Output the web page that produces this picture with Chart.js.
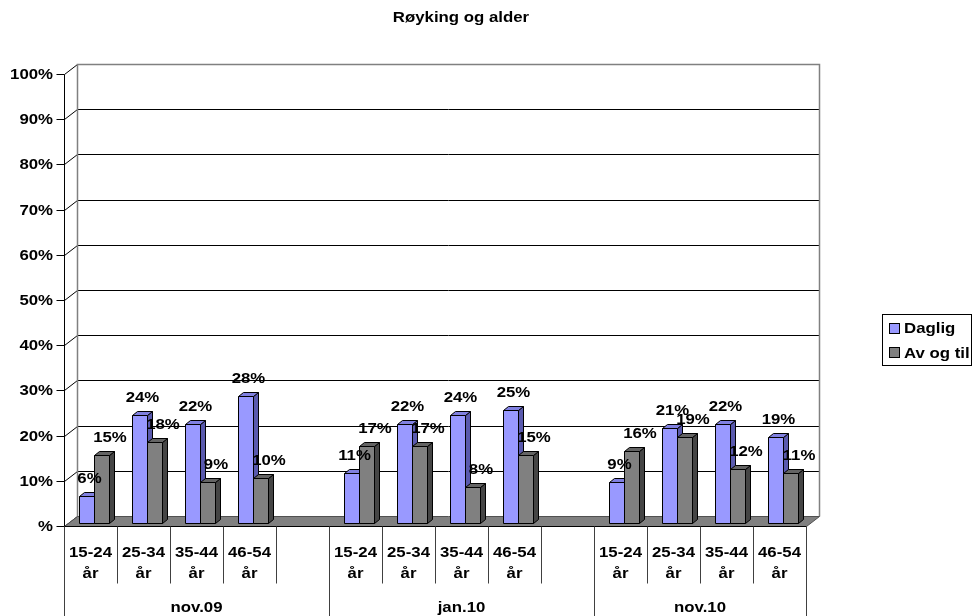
<!DOCTYPE html>
<html>
<head>
<meta charset="utf-8">
<script src="https://cdn.jsdelivr.net/npm/chart.js@4.4.0/dist/chart.umd.min.js"></script>
<style>
  html, body { margin: 0; padding: 0; background: #fff; }
  canvas { display: block; }
</style>
</head>
<body>
<canvas id="c" width="974" height="616"></canvas>
<script>
// ---- data ----
const chartTitle = 'Røyking og alder';
const periods = ['nov.09', 'jan.10', 'nov.10'];
const ageGroups = ['15-24 år', '25-34 år', '35-44 år', '46-54 år'];
const seriesNames = ['Daglig', 'Av og til'];

const dagligNov09 = [6, 24, 22, 28];
const dagligJan10 = [11, 22, 24, 25];
const dagligNov10 = [9, 21, 22, 19];

const avOgTilNov09 = [15, 18, 9, 10];
const avOgTilJan10 = [17, 17, 8, 15];
const avOgTilNov10 = [16, 19, 12, 11];

const yTicks = [0, 10, 20, 30, 40, 50, 60, 70, 80, 90, 100];
const yTickLabels = ['%', '10%', '20%', '30%', '40%', '50%', '60%', '70%', '80%', '90%', '100%'];

// ---- build category slots: each period gets its age groups, with an empty slot between periods ----
const dagligByPeriod = [dagligNov09, dagligJan10, dagligNov10];
const avOgTilByPeriod = [avOgTilNov09, avOgTilJan10, avOgTilNov10];

const slotLabels = [];
const dagligSlots = [];
const avOgTilSlots = [];
const periodSpans = [];   // [firstSlot, slotCount]
periods.forEach((p, pi) => {
  const start = slotLabels.length;
  ageGroups.forEach((g, gi) => {
    slotLabels.push(g);
    dagligSlots.push(dagligByPeriod[pi][gi]);
    avOgTilSlots.push(avOgTilByPeriod[pi][gi]);
  });
  if (pi < periods.length - 1) {
    slotLabels.push('');
    dagligSlots.push(null);
    avOgTilSlots.push(null);
  }
  periodSpans.push([start, slotLabels.length - start]);
});

// ---- look ----
const FONT = 'bold 14px "Liberation Sans", Arial, sans-serif';
const STRETCH = 1.2;            // wide lettering
const WALL_DX = 13, WALL_DY = -10; // depth of the back wall
const BAR_DX = 3.5, BAR_DY = -3;   // bars stand a little into the floor
const COL_DX = 5, COL_DY = -4;     // depth of each column
const seriesColors = [
  { front: '#9999FF', top: '#8080E0', side: '#5A5AAE' },
  { front: '#808080', top: '#646464', side: '#454545' }
];
const labelNudge = [3, 8.5];

function stretchedText(ctx, s, x, y, align) {
  ctx.save();
  ctx.translate(x, y);
  ctx.scale(STRETCH, 1);
  ctx.textAlign = align;
  ctx.textBaseline = 'alphabetic';
  ctx.fillText(s, 0, 0);
  ctx.restore();
}

function poly(ctx, pts, fill, stroke) {
  ctx.beginPath();
  ctx.moveTo(pts[0][0], pts[0][1]);
  for (let i = 1; i < pts.length; i++) ctx.lineTo(pts[i][0], pts[i][1]);
  ctx.closePath();
  if (fill) { ctx.fillStyle = fill; ctx.fill(); }
  if (stroke) { ctx.strokeStyle = stroke; ctx.lineWidth = 1; ctx.stroke(); }
}

const frame3d = {
  id: 'frame3d',
  beforeDatasetsDraw(chart) {
    const ctx = chart.ctx;
    const a = chart.chartArea;
    const ys = chart.scales.y;
    const L = Math.round(a.left) + 0.5, R = Math.round(a.right) + 0.5;
    const y0 = Math.round(ys.getPixelForValue(0)) + 0.5;
    const yTop = Math.round(ys.getPixelForValue(100)) + 0.5;
    ctx.save();
    // back wall grid lines and side-wall diagonals
    yTicks.forEach(v => {
      const y = Math.round(ys.getPixelForValue(v)) + 0.5;
      ctx.strokeStyle = '#000';
      ctx.lineWidth = 1;
      ctx.beginPath();
      ctx.moveTo(L, y);
      ctx.lineTo(L + WALL_DX, y + WALL_DY);
      if (v > 0 && v < 100) ctx.lineTo(R + WALL_DX, y + WALL_DY);
      ctx.stroke();
      // tick mark
      ctx.beginPath();
      ctx.moveTo(L - 8, y);
      ctx.lineTo(L, y);
      ctx.stroke();
    });
    // wall outline
    ctx.strokeStyle = '#808080';
    ctx.lineWidth = 1.5;
    ctx.beginPath();
    ctx.moveTo(L + WALL_DX, y0 + WALL_DY);
    ctx.lineTo(L + WALL_DX, yTop + WALL_DY);
    ctx.lineTo(R + WALL_DX, yTop + WALL_DY);
    ctx.lineTo(R + WALL_DX, y0 + WALL_DY);
    ctx.stroke();
    // floor
    poly(ctx, [[L, y0], [R, y0], [R + WALL_DX, y0 + WALL_DY], [L + WALL_DX, y0 + WALL_DY]], '#808080', '#505050');
    // value axis
    ctx.strokeStyle = '#000';
    ctx.lineWidth = 1;
    ctx.beginPath();
    ctx.moveTo(L, yTop);
    ctx.lineTo(L, y0);
    ctx.lineTo(R, y0);
    ctx.stroke();
    ctx.restore();
  },
  afterDatasetsDraw(chart) {
    const ctx = chart.ctx;
    ctx.save();
    const metas = chart.data.datasets.map((d, i) => chart.getDatasetMeta(i));
    const n = chart.data.labels.length;
    // columns, slot by slot so nearer faces cover the sides of their neighbours
    for (let i = 0; i < n; i++) {
      metas.forEach((meta, si) => {
        const v = chart.data.datasets[si].data[i];
        if (v === null || v === undefined) return;
        const el = meta.data[i];
        const c = seriesColors[si];
        const x1 = Math.round(el.x - el.width / 2 + BAR_DX) + 0.5;
        const x2 = Math.round(el.x + el.width / 2 + BAR_DX) + 0.5;
        const yt = Math.round(el.y + BAR_DY) + 0.5;
        const yb = Math.round(el.base + BAR_DY) + 0.5;
        poly(ctx, [[x2, yt], [x2 + COL_DX, yt + COL_DY], [x2 + COL_DX, yb + COL_DY], [x2, yb]], c.side, '#000');
        poly(ctx, [[x1, yt], [x1 + COL_DX, yt + COL_DY], [x2 + COL_DX, yt + COL_DY], [x2, yt]], c.top, '#000');
        poly(ctx, [[x1, yt], [x2, yt], [x2, yb], [x1, yb]], c.front, '#000');
      });
    }
    // value labels
    ctx.fillStyle = '#000';
    ctx.font = FONT;
    for (let i = 0; i < n; i++) {
      metas.forEach((meta, si) => {
        const v = chart.data.datasets[si].data[i];
        if (v === null || v === undefined) return;
        const el = meta.data[i];
        stretchedText(ctx, v + '%', el.x + BAR_DX + labelNudge[si], el.y + BAR_DY - 13, 'center');
      });
    }
    ctx.restore();
  },
  afterDraw(chart) {
    const ctx = chart.ctx;
    const a = chart.chartArea;
    const xs = chart.scales.x;
    const ys = chart.scales.y;
    const n = chart.data.labels.length;
    const slotW = (a.right - a.left) / n;
    const y0 = Math.round(ys.getPixelForValue(0)) + 0.5;
    ctx.save();
    ctx.font = FONT;
    ctx.fillStyle = '#000';

    // value axis labels
    yTicks.forEach((v, i) => {
      const y = ys.getPixelForValue(v);
      stretchedText(ctx, yTickLabels[i], a.left - 11, y + 5, 'right');
    });

    // category table below the floor
    const groupEdges = new Set();
    periodSpans.forEach(([s, c]) => { groupEdges.add(s); groupEdges.add(s + c); });
    ctx.strokeStyle = '#404040';
    ctx.lineWidth = 1;
    for (let k = 0; k <= n; k++) {
      const x = Math.round(a.left + k * slotW) + 0.5;
      ctx.beginPath();
      ctx.moveTo(x, y0);
      ctx.lineTo(x, groupEdges.has(k) ? chart.height : y0 + 57);
      ctx.stroke();
    }
    chart.data.labels.forEach((lab, i) => {
      if (!lab) return;
      const x = xs.getPixelForValue(i);
      const parts = lab.split(' ');
      stretchedText(ctx, parts[0], x, y0 + 30, 'center');
      if (parts[1]) stretchedText(ctx, parts[1], x, y0 + 51, 'center');
    });
    periodSpans.forEach(([s, c], pi) => {
      const xc = a.left + (s + c / 2) * slotW;
      stretchedText(ctx, periods[pi], xc, y0 + 85, 'center');
    });

    // title
    stretchedText(ctx, chartTitle, 461, 22, 'center');

    // legend
    ctx.strokeStyle = '#000';
    ctx.strokeRect(882.5, 314.5, 89, 51);
    chart.data.datasets.forEach((d, i) => {
      const ry = 323.5 + i * 24;
      ctx.fillStyle = seriesColors[i].front;
      ctx.fillRect(889.5, ry, 10, 10);
      ctx.strokeRect(889.5, ry, 10, 10);
      ctx.fillStyle = '#000';
      stretchedText(ctx, d.label, 904, 333 + i * 24.5, 'left');
    });
    ctx.restore();
  }
};

new Chart(document.getElementById('c'), {
  type: 'bar',
  data: {
    labels: slotLabels,
    datasets: [
      { label: seriesNames[0], data: dagligSlots, backgroundColor: 'rgba(0,0,0,0)', borderWidth: 0 },
      { label: seriesNames[1], data: avOgTilSlots, backgroundColor: 'rgba(0,0,0,0)', borderWidth: 0 }
    ]
  },
  options: {
    responsive: false,
    animation: false,
    devicePixelRatio: 1,
    layout: { padding: { left: 64, right: 168, top: 74, bottom: 90 } },
    datasets: { bar: { categoryPercentage: 30 / 53, barPercentage: 1 } },
    plugins: { legend: { display: false }, title: { display: false }, tooltip: { enabled: false } },
    scales: {
      x: { display: false, offset: true },
      y: { display: false, min: 0, max: 100 }
    }
  },
  plugins: [frame3d]
});
</script>
</body>
</html>
